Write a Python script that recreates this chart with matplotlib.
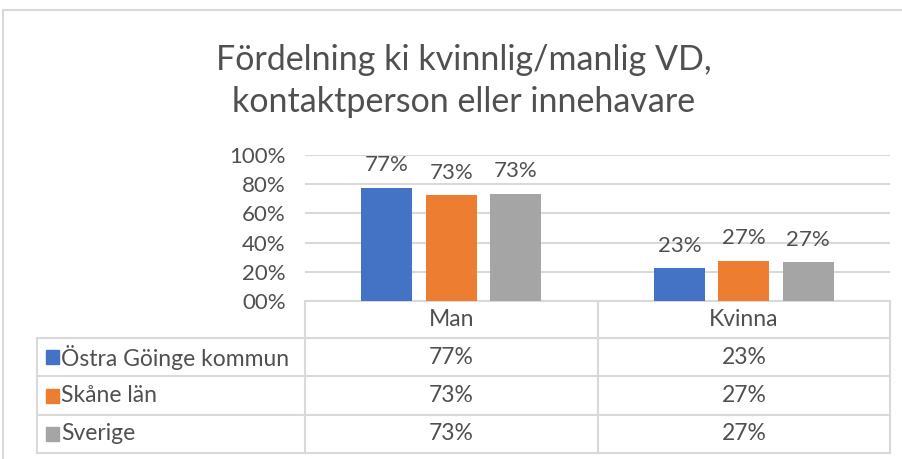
import matplotlib.pyplot as plt
from matplotlib.ticker import FuncFormatter

# data
kategorier = ["Man", "Kvinna"]
serier = ["Östra Göinge kommun", "Skåne län", "Sverige"]
ostra_goinge = [0.774, 0.226]
skane = [0.726, 0.274]
sverige = [0.733, 0.267]
farger = ["#4472C4", "#ED7D31", "#A5A5A5"]
titel = "Fördelning ki kvinnlig/manlig VD,\nkontaktperson eller innehavare"

W, H = 903, 459
TXT = "#505050"
GRID = "#D9D9D9"
plt.rcParams['font.family'] = ['Lato', 'DejaVu Sans']

fig = plt.figure(figsize=(W / 100, H / 100), dpi=100)

# pixel-coordinate overlay for frame, title and data table
bg = fig.add_axes([0, 0, 1, 1])
bg.set_xlim(0, W)
bg.set_ylim(H, 0)
bg.axis("off")

# chart frame
bg.plot([3, W], [10, 10], color=GRID, lw=1.5)
bg.plot([3, 3], [10, H], color=GRID, lw=1.5)

bg.text(464, 81, titel, ha="center", va="center", fontsize=24.5, color=TXT,
        linespacing=1.35)

# plot area
x0, x1, ytop, ybot = 305, 890, 155, 301
ax = fig.add_axes([x0 / W, 1 - ybot / H, (x1 - x0) / W, (ybot - ytop) / H])
ax.set_xlim(-0.5, len(kategorier) - 0.5)
ax.set_ylim(0, 1)

alla = [ostra_goinge, skane, sverige]
bredd = 0.174
steg = 0.22
for i, (vals, c) in enumerate(zip(alla, farger)):
    xs = [k + (i - 1) * steg for k in range(len(kategorier))]
    ax.bar(xs, vals, width=bredd, color=c, zorder=3)
    for x, v in zip(xs, vals):
        ax.annotate(f"{v:.0%}", (x, v), xytext=(0, 9), textcoords="offset points",
                    ha="center", va="bottom", fontsize=16, color=TXT)

ax.set_yticks([0, 0.2, 0.4, 0.6, 0.8, 1.0])
ax.yaxis.set_major_formatter(FuncFormatter(lambda v, p: f"{v * 100:02.0f}%"))
ax.tick_params(axis="y", length=0, pad=14, labelsize=16, labelcolor=TXT)
ax.set_xticks([])
ax.grid(axis="y", color=GRID, lw=1.5, zorder=0)
for s in ax.spines.values():
    s.set_visible(False)
ax.patch.set_alpha(0)

# data table
rader = [338, 376, 415, 453]
tx0 = 37
cols = [x0, 598, x1]
bg.plot([x0, x1], [ybot, ybot], color=GRID, lw=1.5)
for y in rader:
    bg.plot([tx0, x1], [y, y], color=GRID, lw=1.5)
bg.plot([tx0, tx0], [rader[0], rader[-1]], color=GRID, lw=1.5)
for x in cols:
    bg.plot([x, x], [ybot, rader[-1]], color=GRID, lw=1.5)

for k, kat in enumerate(kategorier):
    bg.text((cols[k] + cols[k + 1]) / 2, (ybot + rader[0]) / 2, kat,
            ha="center", va="center", fontsize=16.5, color=TXT)

for i, (namn, vals, c) in enumerate(zip(serier, alla, farger)):
    yc = (rader[i] + rader[i + 1]) / 2
    bg.add_patch(plt.Rectangle((46, yc - 7), 13, 14, color=c))
    bg.text(61, yc, namn, ha="left", va="center", fontsize=16.5, color=TXT)
    for k, v in enumerate(vals):
        bg.text((cols[k] + cols[k + 1]) / 2, yc, f"{v:.0%}",
                ha="center", va="center", fontsize=16.5, color=TXT)

fig.savefig("out.png", dpi=100, facecolor="white")
